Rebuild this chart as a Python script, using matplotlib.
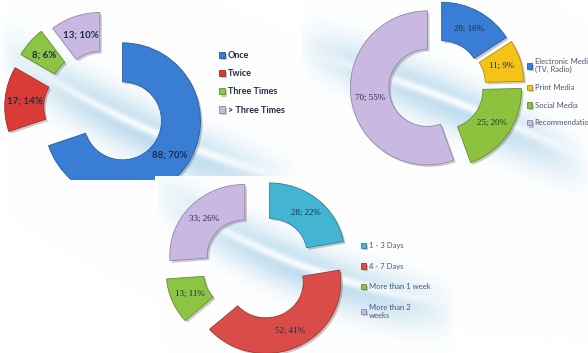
import numpy as np
import matplotlib
matplotlib.use("Agg")
import matplotlib.pyplot as plt
from matplotlib import patheffects as pe

W, H = 588, 353

# chart 1: how often
freq_labels = ["Once", "Twice", "Three Times", "> Three Times"]
freq_counts = [88, 17, 8, 13]
freq_pcts = [70, 14, 6, 10]
freq_colors = ["#3a7dd4", "#db3b36", "#8cc443", "#c9b9e2"]

# chart 2: where did they hear about it
source_labels = ["Electronic Media\n(TV, Radio)", "Print Media", "Social Media", "Recommendation"]
source_counts = [20, 11, 25, 70]
source_pcts = [16, 9, 20, 55]
source_colors = ["#3a7dd6", "#f4c316", "#8dc23f", "#c9b9e2"]

# chart 3: interval
interval_labels = ["1 - 3 Days", "4 - 7 Days", "More than 1 week", "More than 2\nweeks"]
interval_counts = [28, 52, 13, 33]
interval_pcts = [22, 41, 11, 26]
interval_colors = ["#43b5d3", "#da4c47", "#8cc443", "#c9b9e2"]

TEXT = "#1f2a44"


def px_axes(fig, x0, y0, w, h):
    return fig.add_axes([x0 / W, 1 - (y0 + h) / H, w / W, h / H])


def swoosh_bg(h, w, bands):
    """White canvas with soft curved bands (the Excel style background)."""
    img = np.ones((h, w, 3))
    yy, xx = np.mgrid[0:h, 0:w]
    for xs, ys, sigma, col, alpha in bands:
        coef = np.polyfit(xs, ys, 2)
        yc = np.polyval(coef, xx)
        t = np.clip((xx - xs[0]) / (xs[-1] - xs[0]), 0, 1)
        fade = np.sin(np.pi * t) ** 0.6
        a = alpha * np.exp(-((yy - yc) / sigma) ** 2) * fade
        img = img * (1 - a[..., None]) + np.array(col) * a[..., None]
    return img


def darker(c, f=0.72):
    r, g, b = matplotlib.colors.to_rgb(c)
    return (r * f, g * f, b * f)


def donut(ax, counts, pcts, colors, cx, cy, rx, ry, w, h, explode, ring,
          font, size, weight="normal"):
    wedges, _ = ax.pie(counts, colors=colors, startangle=90, counterclock=False,
                       explode=explode, radius=1, wedgeprops=dict(width=ring))
    for wdg, c in zip(wedges, colors):
        wdg.set_edgecolor(darker(c))
        wdg.set_linewidth(0.6)
        wdg.set_clip_on(True)
        wdg.set_path_effects([pe.SimplePatchShadow(offset=(1.5, -1.5), alpha=0.25),
                              pe.Normal()])
    for wdg, n, p in zip(wedges, counts, pcts):
        th = np.deg2rad((wdg.theta1 + wdg.theta2) / 2)
        rr = 1 - ring / 2
        x = wdg.center[0] + rr * np.cos(th)
        y = wdg.center[1] + rr * np.sin(th)
        ax.text(x, y, f"{n}; {p}%", ha="center", va="center", color=TEXT,
                family=font, fontsize=size, fontweight=weight)
    ax.set_aspect("auto")
    ax.set_xlim(-cx / rx, (w - cx) / rx)
    ax.set_ylim(-(h - cy) / ry, cy / ry)
    ax.axis("off")
    return wedges


fig = plt.figure(figsize=(W / 100, H / 100), dpi=100)

# background for the two upper charts
bg = swoosh_bg(H, W, [
    ((0, 130, 300), (50, 125, 195), 28, (0.70, 0.84, 0.92), 0.85),
    ((20, 130, 300), (60, 121, 180), 5, (1, 1, 1), 0.9),
    ((300, 430, 588), (45, 95, 170), 26, (0.70, 0.84, 0.92), 0.85),
    ((315, 430, 588), (55, 92, 160), 5, (1, 1, 1), 0.9),
])
ax_bg = px_axes(fig, 0, 0, W, H)
ax_bg.imshow(bg, extent=(0, W, H, 0), aspect="auto")
ax_bg.axis("off")

# chart 1
ax1 = px_axes(fig, 0, 0, 300, 180)
ax1.patch.set_alpha(0)
w1 = donut(ax1, freq_counts, freq_pcts, freq_colors, 106, 109, 78, 78, 300, 180,
           [0.26, 0.3, 0.3, 0.25], 0.5, "Lato", 7, "bold")
ax1.legend(w1, freq_labels, loc="upper left", bbox_to_anchor=(219 / W, 1 - 51 / H),
           bbox_transform=fig.transFigure, frameon=False,
           prop=dict(family="Lato", size=6.5, weight="bold"), labelcolor=TEXT,
           labelspacing=1.02, handlelength=0.7, handleheight=0.7, handletextpad=0.3,
           borderpad=0, borderaxespad=0)

# chart 2
ax2 = px_axes(fig, 300, 0, 288, 180)
ax2.patch.set_alpha(0)
w2 = donut(ax2, source_counts, source_pcts, source_colors, 138, 86, 77, 77, 288, 180,
           [0.1, 0.12, 0.1, 0.14], 0.5, "Liberation Serif", 6.5)
ax2.legend(w2, source_labels, loc="upper left", bbox_to_anchor=(527 / W, 1 - 58 / H),
           bbox_transform=fig.transFigure, frameon=False,
           prop=dict(family="Lato", size=5.5), labelcolor="#4a5670",
           labelspacing=1.4, handlelength=0.7, handleheight=0.7, handletextpad=0.3,
           borderpad=0, borderaxespad=0)

# chart 3 sits on a white panel over chart 1
px3, py3, pw3, ph3 = 155, 176, 300, 177
bg3 = swoosh_bg(ph3, pw3, [
    ((0, 110, 300), (15, 77, 135), 26, (0.70, 0.84, 0.92), 0.85),
    ((10, 110, 300), (20, 74, 126), 5, (1, 1, 1), 0.9),
])
ax3bg = px_axes(fig, px3, py3, pw3, ph3)
ax3bg.imshow(bg3, extent=(0, pw3, ph3, 0), aspect="auto")
ax3bg.axis("off")

ax3 = px_axes(fig, px3, py3, pw3, ph3)
ax3.patch.set_alpha(0)
w3 = donut(ax3, interval_counts, interval_pcts, interval_colors, 103, 91, 75, 71, pw3, ph3,
           [0.24, 0.24, 0.24, 0.24], 0.5, "Liberation Serif", 6.5)
ax3.legend(w3, interval_labels, loc="upper left", bbox_to_anchor=(361 / W, 1 - 242 / H),
           bbox_transform=fig.transFigure, frameon=False,
           prop=dict(family="Lato", size=5.5), labelcolor="#4a5670",
           labelspacing=1.78, handlelength=0.7, handleheight=0.7, handletextpad=0.3,
           borderpad=0, borderaxespad=0)

fig.savefig("out.png", dpi=100)
